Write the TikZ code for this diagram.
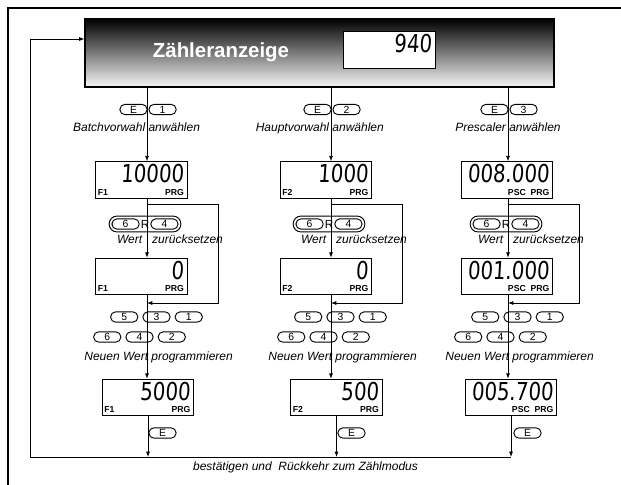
\documentclass[tikz,border=0pt]{standalone}
\usepackage{fontspec}
\setmainfont{Liberation Sans}
\newfontfamily\segfont[FakeSlant=0.08]{DejaVu Sans}
\usepackage{graphicx}
\usetikzlibrary{arrows.meta,positioning,fit}
\newcommand{\sg}[1]{\scalebox{0.8}[1]{#1}}
\tikzset{
  hdr/.style={rectangle, draw, line width=0.8pt, top color=black, middle color=black!45,
              bottom color=black!3, minimum width=351.75pt, minimum height=51pt, inner sep=0pt},
  hdrtxt/.style={font=\fontsize{15.3}{18}\selectfont\bfseries, text=white,
                 inner sep=0pt, anchor=base},
  lcd/.style={rectangle, draw, line width=0.7pt, fill=white, minimum width=68.5pt,
              minimum height=27.5pt, inner sep=0pt},
  seg/.style={font=\segfont\fontsize{18.5}{18.5}\selectfont, inner sep=0pt,
              anchor=north east, xshift=-2.8pt, yshift=-2.3pt},
  tagl/.style={font=\fontsize{6.5}{7}\selectfont\bfseries, inner sep=0pt,
               anchor=south west, xshift=1.6pt, yshift=2.3pt},
  tagr/.style={font=\fontsize{6.5}{7}\selectfont\bfseries, inner sep=0pt,
               anchor=south east, xshift=-2.6pt, yshift=2.3pt},
  key/.style={rectangle, draw, rounded corners=3.9pt, line width=0.7pt,
              minimum width=20.5pt, minimum height=7.8pt, inner sep=0pt,
              font=\fontsize{7.8}{8}\selectfont},
  rkey/.style={font=\fontsize{8.8}{9}\selectfont, inner sep=0pt},
  rgrp/.style={rectangle, draw, rounded corners=5.8pt, line width=0.7pt, inner sep=1.7pt},
  note/.style={font=\fontsize{9}{11}\selectfont\itshape, inner sep=0pt, anchor=base},
  fl/.style={-{Latex[length=4pt,width=3pt]}, line width=0.6pt},
  ln/.style={line width=0.6pt},
}
\begin{document}
\begin{tikzpicture}[x=0.75pt, y=-0.75pt]
\useasboundingbox (0,0) rectangle (621,485);
% frame
\draw[line width=1pt] (8,485) -- (8,8) -- (621,8);

% counter display
\node[hdr] (hdr) at (319.5,53) {};
\node[hdrtxt] (ttl) at (221,57.3) {Zähleranzeige};
\node[lcd, label={[seg]north east:\sg{940}}] (cnt) at (389.5,50) {};

% column axes, skip-reset taps and the return line
\coordinate (c1) at (147,0);
\coordinate (c2) at (331,0);
\coordinate (c3) at (508,0);
\coordinate (o1) at (147,204);  \coordinate (i1) at (147,303);
\coordinate (o2) at (331,204);  \coordinate (i2) at (331,303);
\coordinate (o3) at (508,204);  \coordinate (i3) at (508,303);
\coordinate (loopL) at (30,457);

% column 1: Batchvorwahl
\node[key] (e1) at (133.5,109.5) {E};
\node[key, right=0.6pt of e1] (e1n) {1};
\node[note] (sel1t) at (136.6,132) {Batchvorwahl anwählen};
\node[lcd, label={[seg]north east:\sg{10000}}, label={[tagl]south west:F1},
      label={[tagr]south east:PRG}] (sel1) at (141.5,180) {};
\node[rkey] (r1) at (145,224) {R};
\node[key, left=0.6pt of r1] (r1k6) {6};
\node[key, right=0.6pt of r1] (r1k4) {4};
\node[rgrp, fit=(r1k6)(r1k4)] (r1g) {};
\node[note] (clr1t) at (170,243) {Wert~~ zurücksetzen};
\node[lcd, label={[seg]north east:\sg{0}}, label={[tagl]south west:F1},
      label={[tagr]south east:PRG}] (clr1) at (141.5,276.5) {};
\node[key] (p1k3) at (156.5,317) {3};
\node[key, left=3pt of p1k3] (p1k5) {5};
\node[key, right=3pt of p1k3] (p1k1) {1};
\node[key] (p1k4) at (139.5,337) {4};
\node[key, left=3pt of p1k4] (p1k6) {6};
\node[key, right=3pt of p1k4] (p1k2) {2};
\node[note] (new1t) at (158.6,360) {Neuen Wert programmieren};
\node[lcd, label={[seg]north east:\sg{5000}}, label={[tagl]south west:F1},
      label={[tagr]south east:PRG}] (new1) at (148,397.5) {};
\node[key] (q1) at (162.5,433) {E};

% column 2: Hauptvorwahl
\node[key] (e2) at (317.5,109.5) {E};
\node[key, right=0.6pt of e2] (e2n) {2};
\node[note] (sel2t) at (319.8,132) {Hauptvorwahl anwählen};
\node[lcd, label={[seg]north east:\sg{1000}}, label={[tagl]south west:F2},
      label={[tagr]south east:PRG}] (sel2) at (326,180) {};
\node[rkey] (r2) at (329,224) {R};
\node[key, left=0.6pt of r2] (r2k6) {6};
\node[key, right=0.6pt of r2] (r2k4) {4};
\node[rgrp, fit=(r2k6)(r2k4)] (r2g) {};
\node[note] (clr2t) at (354,243) {Wert~~ zurücksetzen};
\node[lcd, label={[seg]north east:\sg{0}}, label={[tagl]south west:F2},
      label={[tagr]south east:PRG}] (clr2) at (326,276.5) {};
\node[key] (p2k3) at (340.5,317) {3};
\node[key, left=3pt of p2k3] (p2k5) {5};
\node[key, right=3pt of p2k3] (p2k1) {1};
\node[key] (p2k4) at (323.5,337) {4};
\node[key, left=3pt of p2k4] (p2k6) {6};
\node[key, right=3pt of p2k4] (p2k2) {2};
\node[note] (new2t) at (342.6,360) {Neuen Wert programmieren};
\node[lcd, label={[seg]north east:\sg{500}}, label={[tagl]south west:F2},
      label={[tagr]south east:PRG}] (new2) at (336.5,397.5) {};
\node[key] (q2) at (351.5,433) {E};

% column 3: Prescaler
\node[key] (e3) at (494.5,109.5) {E};
\node[key, right=0.6pt of e3] (e3n) {3};
\node[note] (sel3t) at (508,132) {Prescaler anwählen};
\node[lcd, label={[seg]north east:\sg{008.000}},
      label={[tagr]south east:PSC~ PRG}] (sel3) at (507,180) {};
\node[rkey] (r3) at (506,224) {R};
\node[key, left=0.6pt of r3] (r3k6) {6};
\node[key, right=0.6pt of r3] (r3k4) {4};
\node[rgrp, fit=(r3k6)(r3k4)] (r3g) {};
\node[note] (clr3t) at (531,243) {Wert~~ zurücksetzen};
\node[lcd, label={[seg]north east:\sg{001.000}},
      label={[tagr]south east:PSC~ PRG}] (clr3) at (507,276.5) {};
\node[key] (p3k3) at (517.5,317) {3};
\node[key, left=3pt of p3k3] (p3k5) {5};
\node[key, right=3pt of p3k3] (p3k1) {1};
\node[key] (p3k4) at (500.5,337) {4};
\node[key, left=3pt of p3k4] (p3k6) {6};
\node[key, right=3pt of p3k4] (p3k2) {2};
\node[note] (new3t) at (519.6,360) {Neuen Wert programmieren};
\node[lcd, label={[seg]north east:\sg{005.700}},
      label={[tagr]south east:PSC~ PRG}] (new3) at (511,397.5) {};
\node[key] (q3) at (527.5,433) {E};

% flow down each column
\foreach \i in {1,2,3} {
  \draw[fl] (hdr.south -| c\i) -- (sel\i.north -| c\i);
  \draw[fl] (sel\i.south -| c\i) -- (clr\i.north -| c\i);
  \draw[fl] (clr\i.south -| c\i) -- (new\i.north -| c\i);
  \draw[fl] (new\i.south) -- (new\i.south |- loopL);
  \draw[fl] (o\i) -- ++(71,0) |- (i\i);
}

% back to counting
\draw[ln] (loopL) -- (new3.south |- loopL);
\draw[fl] (loopL) |- ([yshift=10.5pt]hdr.west);
\node[note] (backt) at (305.5,470) {bestätigen und~ Rückkehr zum Zählmodus};
\end{tikzpicture}
\end{document}
